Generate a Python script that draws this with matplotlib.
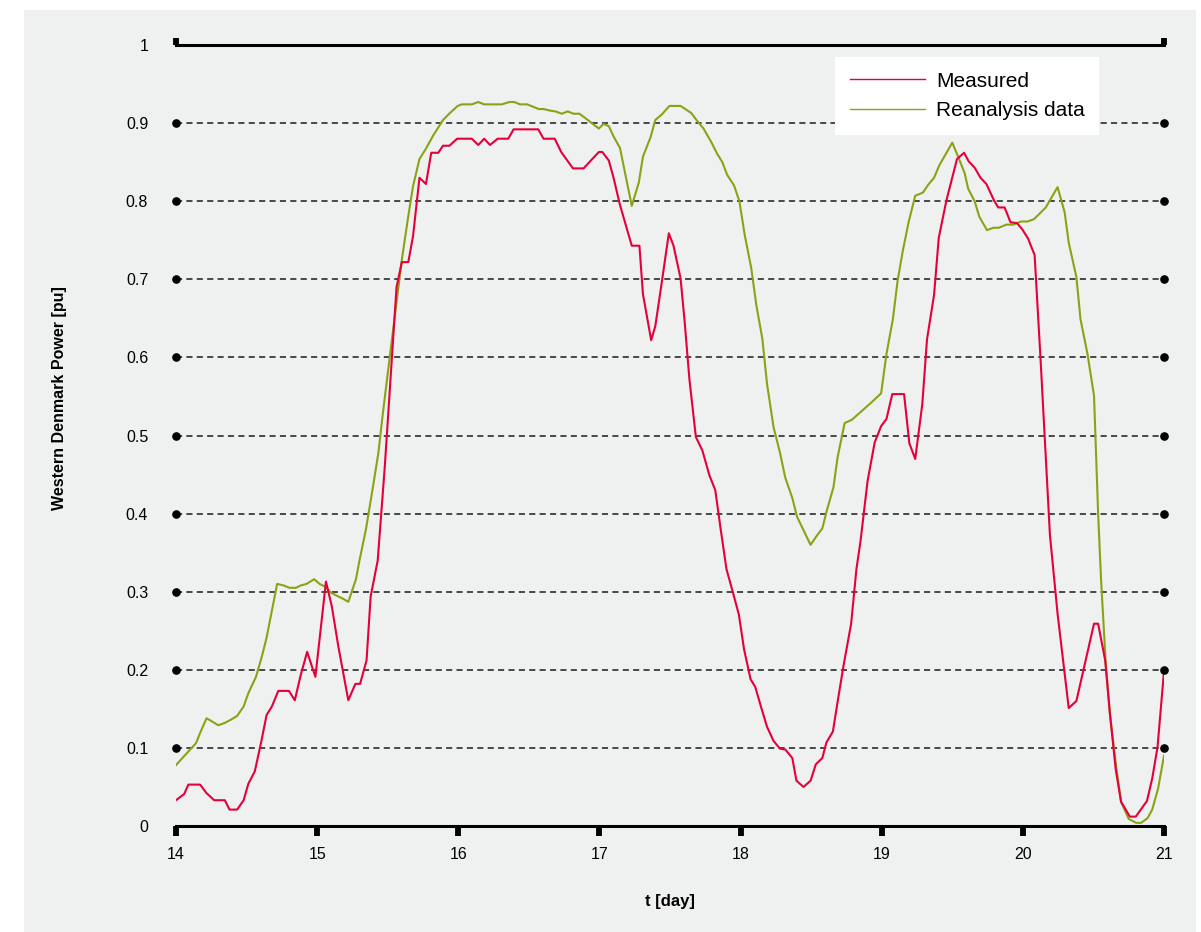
import numpy as np
import matplotlib
matplotlib.use("Agg")
import matplotlib.pyplot as plt
from matplotlib.patches import Rectangle

plt.rcParams['font.family'] = ['Liberation Sans', 'DejaVu Sans']

# ---------------- data ----------------
day_start = 14
day_ticks = [14, 15, 16, 17, 18, 19, 20, 21]
y_ticks = [0, 0.1, 0.2, 0.3, 0.4, 0.5, 0.6, 0.7, 0.8, 0.9, 1]
y_tick_labels = ["0", "0.1", "0.2", "0.3", "0.4", "0.5", "0.6", "0.7", "0.8", "0.9", "1"]
grid_levels = [0.1, 0.2, 0.3, 0.4, 0.5, 0.6, 0.7, 0.8, 0.9]

# hours after the start of day 14
measured_hours = [0.0, 1.4, 2.1, 4.1, 5.2, 6.5, 8.3, 9.1, 10.4, 11.5, 12.3, 13.4, 14.5, 15.4,
                  16.3, 17.4, 19.2, 20.2, 21.2, 22.3, 23.7, 25.5, 26.5, 27.6, 29.3, 30.5, 31.3,
                  32.4, 33.1, 34.3, 35.5, 36.9, 37.5, 38.4, 39.5, 40.3, 41.4, 42.5, 43.4, 44.6,
                  45.4, 46.5, 47.8, 50.3, 51.4, 52.4, 53.4, 54.7, 56.5, 57.4, 61.6, 62.5, 64.4,
                  65.5, 67.5, 69.3, 71.9, 72.5, 73.6, 74.4, 75.5, 77.5, 78.8, 79.4, 80.8, 81.5,
                  82.6, 83.8, 84.6, 85.8, 86.5, 87.3, 88.4, 89.5, 90.7, 91.7, 92.6, 93.6, 94.7,
                  95.7, 96.6, 97.7, 98.5, 99.5, 100.5, 101.6, 102.7, 103.6, 104.8, 105.5, 106.7,
                  107.9, 108.8, 109.9, 110.6, 111.7, 112.5, 113.5, 114.8, 115.7, 116.4, 117.6,
                  118.8, 119.9, 120.8, 121.8, 123.8, 124.7, 125.7, 126.9, 127.7, 128.9, 129.7,
                  131.0, 132.8, 134.0, 134.8, 135.8, 136.8, 137.8, 139.1, 139.8, 140.9, 141.9,
                  143.0, 143.9, 144.9, 146.0, 147.0, 148.6, 149.9, 151.8, 153.1, 156.1, 156.8,
                  158.0, 158.8, 159.8, 160.7, 162.2, 163.2, 165.1, 166.0, 166.9, 168.0]
measured_power = [0.033, 0.041, 0.053, 0.053, 0.042, 0.033, 0.033, 0.021, 0.021, 0.033, 0.054,
                  0.070, 0.108, 0.142, 0.153, 0.173, 0.173, 0.161, 0.193, 0.223, 0.191, 0.313,
                  0.281, 0.230, 0.161, 0.182, 0.182, 0.212, 0.294, 0.340, 0.460, 0.622, 0.690,
                  0.722, 0.722, 0.755, 0.830, 0.822, 0.862, 0.862, 0.871, 0.871, 0.880, 0.880,
                  0.872, 0.880, 0.872, 0.880, 0.880, 0.892, 0.892, 0.880, 0.880, 0.863, 0.842,
                  0.842, 0.863, 0.863, 0.852, 0.830, 0.795, 0.743, 0.743, 0.681, 0.622, 0.640,
                  0.696, 0.759, 0.743, 0.701, 0.645, 0.572, 0.498, 0.481, 0.449, 0.430, 0.381,
                  0.329, 0.299, 0.271, 0.226, 0.188, 0.178, 0.152, 0.127, 0.109, 0.099, 0.098,
                  0.087, 0.058, 0.050, 0.058, 0.079, 0.087, 0.107, 0.121, 0.159, 0.205, 0.259,
                  0.329, 0.365, 0.442, 0.491, 0.512, 0.521, 0.553, 0.553, 0.490, 0.470, 0.540,
                  0.623, 0.680, 0.753, 0.801, 0.854, 0.862, 0.851, 0.843, 0.830, 0.822, 0.801,
                  0.792, 0.792, 0.773, 0.772, 0.764, 0.752, 0.731, 0.599, 0.373, 0.272, 0.151,
                  0.160, 0.259, 0.259, 0.212, 0.144, 0.072, 0.031, 0.012, 0.012, 0.032, 0.061,
                  0.101, 0.198]

reanalysis_hours = [0.0, 1.2, 2.3, 3.4, 4.2, 5.2, 6.1, 7.2, 8.3, 9.3, 10.4, 11.5, 12.3, 13.6,
                    14.6, 15.4, 17.2, 18.3, 19.3, 20.4, 21.2, 22.2, 23.5, 24.4, 25.5, 26.3,
                    27.3, 28.4, 29.3, 30.6, 31.2, 32.3, 33.4, 34.4, 35.2, 36.7, 38.4, 39.4,
                    40.3, 41.4, 42.4, 43.8, 45.4, 46.6, 47.9, 48.6, 50.3, 51.4, 52.4, 55.4,
                    56.7, 57.5, 58.5, 59.7, 61.7, 62.5, 63.6, 64.5, 65.6, 66.6, 67.6, 68.6,
                    69.5, 70.7, 71.9, 72.7, 73.6, 74.4, 75.5, 77.5, 78.7, 79.4, 80.7, 81.5,
                    82.6, 83.9, 85.8, 86.6, 87.6, 88.6, 89.7, 91.0, 92.0, 92.9, 93.7, 94.9,
                    95.8, 96.7, 97.8, 98.7, 99.7, 100.5, 101.6, 102.7, 103.6, 104.8, 105.6,
                    107.9, 109.0, 109.9, 110.6, 111.8, 112.5, 113.7, 114.9, 116.4, 118.2,
                    119.9, 120.8, 121.9, 122.7, 123.6, 124.6, 125.7, 127.0, 127.9, 128.9,
                    129.8, 132.0, 133.1, 134.1, 134.7, 135.8, 136.6, 137.9, 139.0, 139.9,
                    141.2, 142.4, 143.7, 144.8, 145.9, 147.9, 149.9, 151.1, 151.8, 153.1,
                    153.8, 155.0, 156.1, 156.8, 157.3, 158.1, 158.8, 159.8, 160.7, 162.0,
                    163.3, 164.1, 165.2, 166.0, 167.0, 168.0]
reanalysis_power = [0.078, 0.088, 0.097, 0.106, 0.121, 0.138, 0.134, 0.129, 0.132, 0.136,
                    0.141, 0.153, 0.170, 0.191, 0.217, 0.241, 0.310, 0.308, 0.305, 0.305,
                    0.308, 0.310, 0.316, 0.310, 0.306, 0.299, 0.295, 0.291, 0.287, 0.316,
                    0.340, 0.380, 0.430, 0.477, 0.530, 0.622, 0.725, 0.776, 0.819, 0.854,
                    0.866, 0.885, 0.904, 0.913, 0.922, 0.924, 0.924, 0.927, 0.924, 0.924,
                    0.927, 0.927, 0.924, 0.924, 0.918, 0.918, 0.916, 0.915, 0.912, 0.915,
                    0.912, 0.912, 0.907, 0.900, 0.893, 0.899, 0.896, 0.883, 0.868, 0.794,
                    0.824, 0.857, 0.882, 0.904, 0.911, 0.922, 0.922, 0.918, 0.913, 0.903,
                    0.893, 0.876, 0.861, 0.850, 0.834, 0.820, 0.800, 0.757, 0.715, 0.666,
                    0.624, 0.566, 0.511, 0.478, 0.446, 0.420, 0.396, 0.360, 0.372, 0.381,
                    0.402, 0.434, 0.472, 0.516, 0.520, 0.530, 0.542, 0.554, 0.604, 0.649,
                    0.698, 0.737, 0.774, 0.807, 0.811, 0.821, 0.830, 0.846, 0.875, 0.855,
                    0.836, 0.816, 0.800, 0.780, 0.763, 0.766, 0.766, 0.770, 0.770, 0.774,
                    0.774, 0.777, 0.792, 0.818, 0.786, 0.747, 0.703, 0.649, 0.604, 0.551,
                    0.400, 0.315, 0.208, 0.144, 0.080, 0.031, 0.009, 0.004, 0.004, 0.010,
                    0.021, 0.048, 0.090]

series_names = ["Measured", "Reanalysis data"]
series_colors = ["#e5003c", "#8aa315"]

# ---------------- figure ----------------
W, H = 1201, 932
fig = plt.figure(figsize=(W / 100, H / 100), dpi=100)
fig.patch.set_facecolor("white")
fig.patches.append(Rectangle((24 / W, 0), (1196 - 24) / W, (H - 10) / H,
                             transform=fig.transFigure, facecolor="#eff0f0",
                             edgecolor="none", zorder=-10))

x0, x1 = 176, 1164
y_top, y_bot = 45, 826
ax = fig.add_axes([x0 / W, (H - y_bot) / H, (x1 - x0) / W, (y_bot - y_top) / H])
ax.set_facecolor("none")

t_meas = day_start + np.array(measured_hours) / 24.0
t_rean = day_start + np.array(reanalysis_hours) / 24.0

ax.plot(t_meas, measured_power, color=series_colors[0], lw=1.5, label=series_names[0], zorder=4)
ax.plot(t_rean, reanalysis_power, color=series_colors[1], lw=1.5, label=series_names[1], zorder=3)

ax.set_xlim(day_ticks[0], day_ticks[-1])
ax.set_ylim(0, 1)

# dashed grid lines with dots at both ends
for lv in grid_levels:
    ax.plot([day_ticks[0], day_ticks[-1]], [lv, lv], color="#1a1a1a", lw=1.1,
            linestyle=(0, (4.0, 2.8)), zorder=2, clip_on=False)
ax.plot([day_ticks[0]] * len(grid_levels), grid_levels, 'o', color="black", ms=5.2,
        clip_on=False, zorder=5)
ax.plot([day_ticks[-1]] * len(grid_levels), grid_levels, 'o', color="black", ms=5.2,
        clip_on=False, zorder=5)

for side in ["left", "right"]:
    ax.spines[side].set_visible(False)
for side in ["top", "bottom"]:
    ax.spines[side].set_linewidth(2.2)
    ax.spines[side].set_color("black")

ax.set_xticks(day_ticks)
ax.set_xticklabels([str(d) for d in day_ticks], fontsize=11.5)
ax.tick_params(axis="x", which="major", direction="out", length=7, width=4.2,
               color="black", pad=8)

ax.set_yticks(y_ticks)
ax.set_yticklabels(y_tick_labels, fontsize=11.5)
ax.tick_params(axis="y", which="major", length=0, pad=20)
ax.set_yticks([0, 1], minor=True)
ax.tick_params(axis="y", which="minor", direction="out", length=6, width=4.0,
               left=True, right=True, color="black")

# upward end ticks on top line
sec = ax.secondary_xaxis("top")
sec.set_xticks([day_ticks[0], day_ticks[-1]])
sec.set_xticklabels(["", ""])
sec.tick_params(direction="out", length=5, width=4.2, color="black")
sec.spines["top"].set_visible(False)

ax.set_xlabel("t [day]", fontsize=12, fontweight="bold")
ax.xaxis.set_label_coords(0.5, -(894 - y_bot) / (y_bot - y_top))
ax.set_ylabel("Western Denmark Power [pu]", fontsize=11.5, fontweight="bold")
ax.yaxis.set_label_coords((67 - x0) / (x1 - x0), (y_bot - 398) / (y_bot - y_top))

leg = ax.legend(loc="upper left",
                bbox_to_anchor=((835 - x0) / (x1 - x0), (y_bot - 57) / (y_bot - y_top)),
                borderaxespad=0, fontsize=15, frameon=True, fancybox=False,
                handlelength=3.6, handletextpad=0.55, borderpad=0.7, labelspacing=0.5)
leg.get_frame().set_facecolor("white")
leg.get_frame().set_edgecolor("none")
leg.get_frame().set_alpha(1)
for ln in leg.get_lines():
    ln.set_linewidth(1.0)

fig.savefig("out.png", dpi=100, facecolor=fig.get_facecolor())
